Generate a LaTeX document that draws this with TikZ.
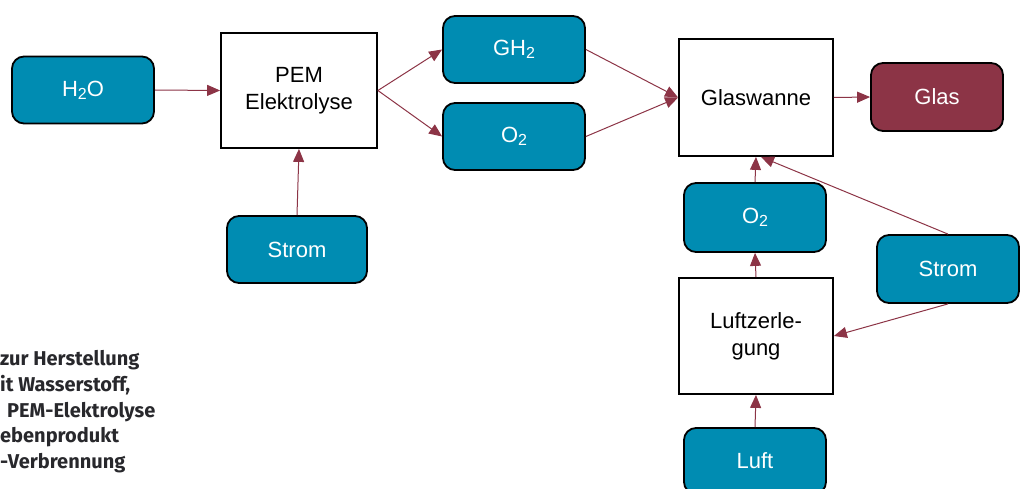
\documentclass[tikz,border=0pt]{standalone}
\usepackage{fontspec}
\setmainfont{Liberation Sans}
\newfontfamily\capfont{Fira Sans}
\usetikzlibrary{arrows.meta}
\definecolor{teal1}{RGB}{0,140,178}
\definecolor{wine}{RGB}{140,52,70}
\definecolor{arrowc}{RGB}{140,52,70}
\definecolor{captxt}{RGB}{40,40,44}
\newcommand{\mysub}[1]{\raisebox{-0.28ex}{\fontsize{16}{16}\selectfont #1}}
\begin{document}
\begin{tikzpicture}[x=1pt,y=-1pt,
  tbox/.style={draw=black,line width=1.8pt,fill=teal1,rounded corners=12pt,text=white,
    font=\fontsize{22}{27}\selectfont,inner sep=0pt,align=center},
  wbox/.style={draw=black,line width=1.8pt,fill=white,text=black,
    font=\fontsize{22}{27}\selectfont,inner sep=0pt,align=center},
  flow/.style={draw=arrowc,line width=1pt,-{Triangle[length=13pt,width=11pt]}},
  captext/.style={anchor=base west,inner sep=0pt,text=captxt,font=\capfont\bfseries\fontsize{20}{24}\selectfont}]
\useasboundingbox (0,0) rectangle (1025,489);
% nodes
\node[tbox,minimum width=142pt,minimum height=67pt] (h2o) at (83,90) {H\mysub{2}O};
\node[wbox,minimum width=156pt,minimum height=115pt] (pem) at (299,90.5) {PEM\\Elektrolyse};
\node[tbox,minimum width=140pt,minimum height=67pt] (strom1) at (297,249.5) {Strom};
\node[tbox,minimum width=142pt,minimum height=67pt] (gh2) at (514,49.5) {GH\mysub{2}};
\node[tbox,minimum width=142pt,minimum height=67pt] (o2a) at (514,136.5) {O\mysub{2}};
\node[wbox,minimum width=154pt,minimum height=117pt] (glw) at (756,97.5) {Glaswanne};
\node[tbox,fill=wine,minimum width=132pt,minimum height=68pt] (glas) at (937,97) {Glas};
\node[tbox,minimum width=142pt,minimum height=69pt] (o2b) at (755,217.5) {O\mysub{2}};
\node[tbox,minimum width=142pt,minimum height=68pt] (strom2) at (948,269) {Strom};
\node[wbox,minimum width=154pt,minimum height=116pt] (luz) at (756,336) {Luftzerle-\\gung};
\node[tbox,minimum width=142pt,minimum height=66pt] (luft) at (755,461) {Luft};
% caption fragments
\node[captext] (c1) at (0,365) {zur Herstellung};
\node[captext] (c2) at (0,391) {it Wasserstoff,};
\node[captext] (c3) at (7,417) {PEM-Elektrolyse};
\node[captext] (c4) at (0,442) {ebenprodukt};
\node[captext] (c5) at (0,468) {-Verbrennung};
% connectors
\draw[flow] (h2o.east) -- (pem.west);
\draw[flow] (strom1.north) -- (pem.south);
\draw[flow] (pem.east) -- (gh2.west);
\draw[flow] (pem.east) -- (o2a.west);
\draw[flow] (gh2.east) -- (glw.west);
\draw[flow] (o2a.east) -- (glw.west);
\draw[flow] (glw.east) -- (glas.west);
\draw[flow] (o2b.north) -- (glw.south);
\draw[flow] (strom2.north) -- ([xshift=5pt]glw.south);
\draw[flow] (strom2.south) -- (luz.east);
\draw[flow] (luz.north) -- (o2b.south);
\draw[flow] (luft.north) -- (luz.south);
\end{tikzpicture}
\end{document}
